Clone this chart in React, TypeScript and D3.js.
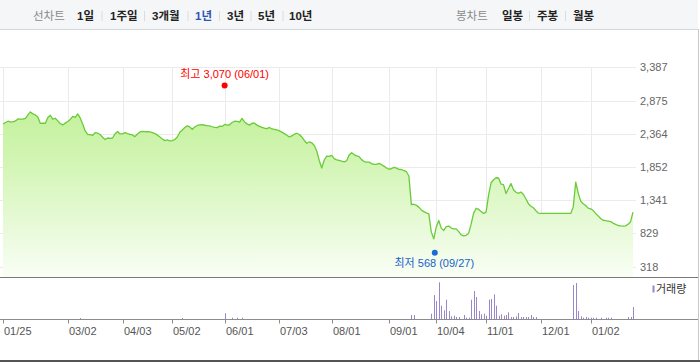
import React from 'react';
import * as d3 from 'd3';

const W = 700;
const H = 362;

// Daily closing prices, one per trading day
const prices: number[] = [
  2515, 2538, 2557, 2546, 2546, 2562, 2592, 2588, 2590, 2600,
  2654, 2700, 2670, 2654, 2623, 2523, 2526, 2526, 2616, 2649,
  2588, 2603, 2562, 2523, 2500, 2528, 2554, 2585, 2631, 2616,
  2670, 2608, 2515, 2407, 2353, 2350, 2341, 2381, 2373, 2353,
  2310, 2276, 2299, 2292, 2299, 2361, 2400, 2361, 2361, 2381,
  2366, 2356, 2346, 2320, 2361, 2392, 2401, 2397, 2395, 2392,
  2381, 2367, 2343, 2315, 2284, 2259, 2269, 2253, 2258, 2276,
  2315, 2387, 2423, 2461, 2485, 2469, 2434, 2469, 2492, 2500,
  2503, 2495, 2488, 2485, 2472, 2461, 2457, 2481, 2477, 2508,
  2497, 2503, 2538, 2557, 2554, 2542, 2600, 2546, 2515, 2497,
  2526, 2526, 2497, 2477, 2461, 2449, 2444, 2461, 2438, 2431,
  2423, 2409, 2389, 2366, 2340, 2315, 2330, 2358, 2372, 2353,
  2315, 2261, 2218, 2238, 2225, 2184, 2099, 1953, 1837, 1960,
  2019, 2016, 2031, 1982, 1962, 1953, 1942, 1932, 1949, 2037,
  2073, 2044, 2023, 2013, 1966, 1936, 1929, 1929, 1905, 1892,
  1894, 1908, 1888, 1866, 1837, 1818, 1826, 1848, 1834, 1817,
  1814, 1797, 1780, 1714, 1274, 1279, 1262, 1235, 1192, 1166,
  1146, 1131, 850, 747, 930, 1030, 912, 876, 935, 943,
  912, 901, 901, 858, 808, 793, 799, 835, 973, 1143,
  1217, 1200, 1169, 1138, 1158, 1421, 1610, 1656, 1687, 1683,
  1590, 1582, 1444, 1521, 1598, 1502, 1464, 1448, 1467, 1430,
  1359, 1288, 1248, 1225, 1180, 1143, 1138, 1138, 1138, 1138,
  1138, 1138, 1138, 1138, 1138, 1138, 1138, 1138, 1138, 1235,
  1621, 1451, 1328, 1286, 1259, 1220, 1209, 1182, 1138, 1100,
  1061, 1033, 1026, 1020, 1013, 989, 969, 952, 946, 943,
  947, 972, 1007, 1158,
];

// Trading volume: [day index, volume]
const volumeEntries: [number, number][] = [
  [31, 100], [72, 100], [89, 570], [92, 130], [94, 130], [96, 130],
  [164, 400], [165, 400],
  [172, 530], [173, 2400], [174, 1800], [175, 3670], [176, 1330], [177, 870],
  [178, 1930], [179, 800], [180, 270], [181, 330], [182, 200], [183, 200],
  [185, 400], [186, 130], [187, 130], [188, 1930], [189, 2800], [190, 2200],
  [191, 800], [192, 470], [193, 530], [194, 330], [195, 1930], [196, 2000],
  [197, 2470], [198, 1330], [199, 330], [200, 470], [201, 330], [202, 400],
  [203, 670], [204, 200], [205, 200], [206, 270], [207, 600], [208, 200],
  [209, 200], [210, 200], [211, 200], [212, 400], [213, 200], [214, 200],
  [229, 3400], [230, 3600], [231, 800], [232, 270], [233, 130], [234, 200],
  [235, 130], [236, 130], [237, 130], [238, 130], [240, 130], [242, 130],
  [243, 130], [244, 130], [251, 200], [252, 200], [253, 1200],
];

const dateTickIndex = [0, 26, 48, 68, 89, 111, 132, 155, 174, 194, 216, 236];
const dateTickLabels = ['01/25', '03/02', '04/03', '05/02', '06/01', '07/03', '08/01', '09/01', '10/04', '11/01', '12/01', '01/02'];
const priceTicks = [318, 829, 1341, 1852, 2364, 2875, 3387];

const highIndex = 89;
const highValue = 3070;
const highLabel = '최고 3,070 (06/01)';
const lowIndex = 173;
const lowValue = 568;
const lowLabel = '최저 568 (09/27)';

const periodTabs = ['1일', '1주일', '3개월', '1년', '3년', '5년', '10년'];
const periodTabX = [77, 110, 152, 195, 227, 258, 289];
const periodSepX = [102, 144.5, 188, 219.5, 251, 283];
const candleTabs = ['일봉', '주봉', '월봉'];
const candleTabX = [502, 537, 573];
const candleSepX = [529.5, 565.5];

const FONT = "'Liberation Sans', 'Noto Sans CJK KR', Arial, sans-serif";

export default function App() {
  const x = d3.scaleLinear().domain([0, prices.length - 1]).range([3, 633]);
  const y = d3.scaleLinear().domain([318, 3387]).range([266.7, 67.3]);
  const plotBottom = 277;
  const volBase = 319;
  const vMax = d3.max(volumeEntries, (d) => d[1]) as number;
  const vy = d3.scaleLinear().domain([0, vMax]).range([volBase, 282.3]);

  const line = d3
    .line<number>()
    .x((_, i) => x(i))
    .y((d) => y(d));
  const area = d3
    .area<number>()
    .x((_, i) => x(i))
    .y0(plotBottom)
    .y1((d) => y(d));

  return (
    <svg
      width={W}
      height={H}
      viewBox={`0 0 ${W} ${H}`}
      style={{ position: 'absolute', left: 0, top: 0, background: '#fff' }}
      fontFamily={FONT}
    >
      <defs>
        <linearGradient id="gfill" gradientUnits="userSpaceOnUse" x1="0" y1="67" x2="0" y2="277">
          <stop offset="0" stopColor="#b9ee88" />
          <stop offset="0.45" stopColor="#d2f5b4" />
          <stop offset="1" stopColor="#f9fef5" />
        </linearGradient>
      </defs>

      {/* top tab bar */}
      <rect x={0} y={0} width={698} height={29.5} fill="#f5f6f8" />
      <line x1={0} x2={698} y1={29.5} y2={29.5} stroke="#d3d6db" />
      <text x={33} y={20} fontSize={11.5} fill="#8a8a8a">선차트</text>
      {periodTabs.map((t, i) => (
        <text key={t} x={periodTabX[i]} y={20} fontSize={11.5} fontWeight="bold" fill={t === '1년' ? '#2f55b0' : '#222'}>
          {t}
        </text>
      ))}
      {periodSepX.map((sx) => (
        <line key={sx} x1={sx} x2={sx} y1={11} y2={21} stroke="#dcdcdc" />
      ))}
      <text x={456} y={20} fontSize={11.5} fill="#8a8a8a">봉차트</text>
      {candleTabs.map((t, i) => (
        <text key={t} x={candleTabX[i]} y={20} fontSize={11.5} fontWeight="bold" fill="#222">
          {t}
        </text>
      ))}
      {candleSepX.map((sx) => (
        <line key={sx} x1={sx} x2={sx} y1={11} y2={21} stroke="#dcdcdc" />
      ))}

      {/* grid */}
      {priceTicks.map((v) => (
        <line key={v} x1={0} x2={636} y1={Math.round(y(v)) + 0.5} y2={Math.round(y(v)) + 0.5} stroke="#ebebeb" />
      ))}
      {dateTickIndex.map((di) => (
        <line key={di} x1={Math.round(x(di)) + 0.5} x2={Math.round(x(di)) + 0.5} y1={67} y2={plotBottom} stroke="#ebebeb" />
      ))}

      {/* price area + line */}
      <path d={area(prices) || ''} fill="url(#gfill)" />
      <path d={line(prices) || ''} fill="none" stroke="#6acb38" strokeWidth={1.3} strokeLinejoin="round" />

      {/* price labels */}
      {priceTicks.map((v) => (
        <text key={v} x={640} y={y(v) + 4} fontSize={11} fill="#666">
          {d3.format(',')(v)}
        </text>
      ))}

      {/* high / low markers */}
      <circle cx={x(highIndex)} cy={y(highValue) - 2.5} r={3} fill="#f00" />
      <text x={x(highIndex)} y={y(highValue) - 9.5} fontSize={11} fill="#f00" textAnchor="middle">
        {highLabel}
      </text>
      <circle cx={x(lowIndex) + 1} cy={y(lowValue) + 2.3} r={3} fill="#1a6bd4" />
      <text x={x(lowIndex) + 0.5} y={y(lowValue) + 16.5} fontSize={11} fill="#1a62c8" textAnchor="middle">
        {lowLabel}
      </text>

      {/* plot bottom border */}
      <line x1={0} x2={698} y1={plotBottom + 0.5} y2={plotBottom + 0.5} stroke="#7a7a7a" />

      {/* volume */}
      {volumeEntries.map(([i, v]) => (
        <rect key={i} x={Math.round(x(i))} y={vy(v)} width={1} height={volBase - vy(v)} fill="#9a86cc" />
      ))}
      <rect x={652.5} y={285.5} width={2} height={7} fill="#9a86cc" />
      <text x={656} y={293} fontSize={11} fill="#333">거래량</text>

      {/* date axis */}
      <line x1={0} x2={698} y1={volBase + 0.5} y2={volBase + 0.5} stroke="#8c8c8c" />
      {dateTickIndex.map((di, k) => (
        <g key={di}>
          <line x1={Math.round(x(di)) + 0.5} x2={Math.round(x(di)) + 0.5} y1={volBase} y2={volBase + 4.5} stroke="#8c8c8c" />
          <text x={Math.round(x(di)) + 1} y={335} fontSize={11} fill="#555">
            {dateTickLabels[k]}
          </text>
        </g>
      ))}

      {/* frame */}
      <line x1={698.5} x2={698.5} y1={29} y2={360} stroke="#c8c8c8" />
      <rect x={0} y={360} width={700} height={2} fill="#555" />
    </svg>
  );
}
